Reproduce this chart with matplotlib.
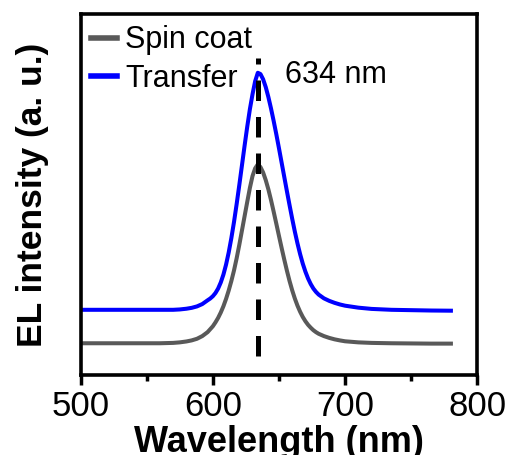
import matplotlib
matplotlib.use("Agg")
import matplotlib.pyplot as plt
from matplotlib.ticker import MultipleLocator

plt.rcParams['font.family'] = ['Liberation Sans', 'DejaVu Sans']

# wavelength (nm) / intensity (a.u.)
wl_spin = [500, 520, 540, 560, 570, 575, 580, 584, 588, 592, 596, 600, 602, 604, 606,
           608, 610, 612, 614, 616, 618, 620, 622, 624, 626, 628, 630, 632, 634, 636,
           638, 640, 642, 644, 646, 648, 650, 652, 654, 656, 658, 660, 662, 664, 666,
           668, 670, 672, 674, 676, 678, 680, 684, 688, 692, 696, 700, 710, 720, 735,
           750, 765, 780]
el_spin = [0.0, 0.0, 0.0, 0.0, 0.002, 0.005, 0.010, 0.016, 0.025, 0.040, 0.062, 0.095,
           0.117, 0.142, 0.172, 0.207, 0.248, 0.295, 0.348, 0.407, 0.475, 0.550, 0.630,
           0.710, 0.790, 0.868, 0.935, 0.978, 1.0, 0.985, 0.955, 0.912, 0.860, 0.800,
           0.735, 0.668, 0.600, 0.533, 0.468, 0.406, 0.348, 0.296, 0.250, 0.210, 0.176,
           0.147, 0.123, 0.103, 0.087, 0.073, 0.062, 0.053, 0.040, 0.030, 0.022, 0.016,
           0.011, 0.005, 0.002, 0.0, -0.001, -0.002, -0.002]

wl_transfer = [500, 520, 540, 560, 570, 575, 580, 584, 588, 592, 596, 598, 600, 602, 604,
               606, 608, 610, 612, 614, 616, 618, 620, 622, 624, 626, 628, 630, 632, 634,
               636, 638, 640, 642, 644, 646, 648, 650, 652, 654, 656, 658, 660, 662, 664,
               666, 668, 670, 672, 674, 676, 678, 680, 684, 688, 692, 696, 700, 710, 720,
               735, 750, 765, 780]
el_transfer = [0.187, 0.187, 0.187, 0.187, 0.187, 0.189, 0.193, 0.198, 0.206, 0.219,
               0.240, 0.250, 0.263, 0.281, 0.306, 0.340, 0.384, 0.440, 0.508, 0.588,
               0.678, 0.778, 0.884, 0.994, 1.104, 1.210, 1.308, 1.392, 1.465, 1.512,
               1.505, 1.476, 1.432, 1.376, 1.312, 1.242, 1.168, 1.090, 1.010, 0.930,
               0.850, 0.772, 0.696, 0.624, 0.558, 0.498, 0.445, 0.400, 0.362, 0.331,
               0.306, 0.287, 0.272, 0.251, 0.237, 0.226, 0.217, 0.210, 0.199, 0.192,
               0.187, 0.185, 0.183, 0.182]

peak_nm = 634
peak_label = "634 nm"

fig = plt.figure(figsize=(5.1, 4.55), dpi=100)
ax = fig.add_axes([0.158, 0.176, 0.778, 0.793])

ax.plot(wl_spin, el_spin, color='#595959', lw=2.9, label='Spin coat')
ax.plot(wl_transfer, el_transfer, color='#0000ff', lw=2.9, label='Transfer')
ax.vlines(peak_nm, -0.071, 1.592, colors='black', lw=3.6, linestyles=(0, (4.1, 3.2)))
ax.text(654.5, 1.50, peak_label, fontsize=22, va='center', ha='left')

ax.set_xlim(500, 800)
ax.set_ylim(-0.177, 1.84)
ax.xaxis.set_major_locator(MultipleLocator(100))
ax.xaxis.set_minor_locator(MultipleLocator(50))
ax.set_yticks([])
ax.tick_params(axis='x', which='major', direction='out', length=7, width=2.5,
               labelsize=25, pad=4)
ax.tick_params(axis='x', which='minor', direction='out', length=4, width=2.5)
for s in ax.spines.values():
    s.set_linewidth(2.6)

ax.set_xlabel("Wavelength (nm)", fontsize=26, fontweight='bold', labelpad=1)
ax.set_ylabel("EL intensity (a. u.)", fontsize=25.5, fontweight='bold', labelpad=23)

leg = ax.legend(loc='upper left', bbox_to_anchor=(0.01, 0.986), frameon=False,
                fontsize=22, handlelength=0.87, handletextpad=0.26,
                labelspacing=0.27, borderaxespad=0, borderpad=0.2)
for line in leg.get_lines():
    line.set_linewidth(4)

fig.savefig("out.png", dpi=100)
